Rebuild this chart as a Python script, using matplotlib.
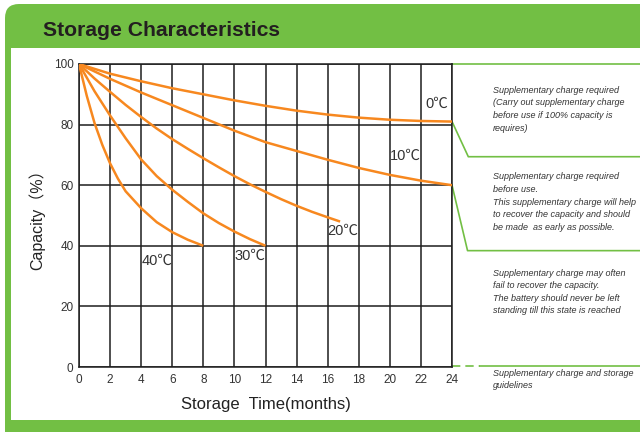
import matplotlib
matplotlib.use('Agg')
import matplotlib.pyplot as plt
from matplotlib import font_manager
from matplotlib.patches import FancyBboxPatch, Rectangle

# capacity (%), per storage temperature
months = [0, 2, 4, 6, 8, 10, 12, 14, 16, 18, 20, 22, 24]
cap_0c = [100, 96.8, 94.3, 92.0, 90.0, 88.0, 86.2, 84.6, 83.3, 82.3, 81.6, 81.2, 81.0]
cap_10c = [100, 95.1, 90.6, 86.4, 82.2, 78.0, 74.2, 71.3, 68.4, 65.7, 63.4, 61.5, 60.0]
months_20c = [0, 1, 2, 3, 4, 5, 6, 7, 8, 9, 10, 11, 12, 13, 14, 15, 16, 16.8]
cap_20c = [100, 95.2, 90.8, 86.5, 82.5, 78.7, 75.2, 72.0, 68.9, 65.9, 63.0, 60.3,
           57.8, 55.4, 53.2, 51.2, 49.4, 48.0]
months_30c = [0, 1, 2, 3, 4, 5, 6, 7, 8, 9, 10, 11, 12]
cap_30c = [100, 91.0, 83.0, 75.5, 68.5, 63.0, 58.5, 54.5, 50.7, 47.5, 44.7, 42.2, 40.0]
months_40c = [0, 0.5, 1, 1.5, 2, 2.5, 3, 4, 5, 6, 7, 8]
cap_40c = [100, 89.5, 80.5, 73.3, 67.2, 62.2, 58.0, 52.4, 47.8, 44.5, 42.0, 40.0]

curve_labels = ['0℃', '10℃', '20℃', '30℃', '40℃']
label_x = [23.0, 21.0, 17.0, 11.0, 5.0]
label_y = [86.8, 69.6, 44.9, 36.6, 35.0]

notes = [
    'Supplementary charge required\n(Carry out supplementary charge\nbefore use if 100% capacity is\nrequires)',
    'Supplementary charge required\nbefore use.\nThis supplementary charge will help\nto recover the capacity and should\nbe made  as early as possible.',
    'Supplementary charge may often\nfail to recover the capacity.\nThe battery should never be left\nstanding till this state is reached',
    'Supplementary charge and storage\nguidelines',
]
note_top = [92.8, 64.2, 32.5, -0.6]

GREEN = '#72bf44'
ORANGE = '#f7881f'
GRIDC = '#1e1e1e'
TXT = '#333333'


def pick_font(names):
    for n in names:
        try:
            font_manager.findfont(n, fallback_to_default=False)
            return n
        except ValueError:
            pass
    return 'DejaVu Sans'


narrow = pick_font(['Liberation Sans Narrow'])
if narrow == 'Liberation Sans Narrow':
    note_size, note_ls = 7.6, 1.22
else:
    narrow = 'Liberation Sans'
    note_size, note_ls = 6.5, 1.52

plt.rcParams['font.family'] = ['Liberation Sans', 'DejaVu Sans']

fig = plt.figure(figsize=(6.4, 4.32), dpi=100)

# frame: green header, left bar, bottom band
bg = fig.add_axes([0, 0, 1, 1], zorder=-1)
bg.set_xlim(0, 640)
bg.set_ylim(432, 0)
bg.axis('off')
bg.add_patch(FancyBboxPatch((5, 4), 700, 500, boxstyle='round,pad=0,rounding_size=14',
                            fc=GREEN, ec='none'))
bg.add_patch(Rectangle((11, 48), 640, 372, fc='white', ec='none'))
bg.text(43, 36, 'Storage Characteristics', fontsize=15.2, fontweight='bold',
        color='#231f20', va='baseline', ha='left')

ax = fig.add_axes([79 / 640, 65 / 432, 373 / 640, 303 / 432], zorder=1)
ax.set_xlim(0, 24)
ax.set_ylim(0, 100)
ax.set_xticks(range(0, 25, 2))
ax.set_yticks(range(0, 101, 20))
ax.grid(True, color=GRIDC, lw=1.1)
ax.set_axisbelow(True)
for s in ax.spines.values():
    s.set_color(GRIDC)
    s.set_linewidth(1.1)
ax.tick_params(length=0, labelsize=8.5, labelcolor=TXT)
ax.tick_params(axis='x', pad=5)
ax.tick_params(axis='y', pad=4)

series = [(months, cap_0c), (months, cap_10c), (months_20c, cap_20c),
          (months_30c, cap_30c), (months_40c, cap_40c)]
for (xs, ys) in series:
    ax.plot(xs, ys, color=ORANGE, lw=1.8, solid_capstyle='butt', zorder=3)

for lab, lx, ly in zip(curve_labels, label_x, label_y):
    ax.text(lx, ly, lab, fontsize=10.5, color=TXT, ha='center', va='center',
            family=['Liberation Sans', 'Noto Sans CJK SC'])

ax.set_xlabel('Storage  Time(months)', fontsize=12, color='#222222', labelpad=8)
ax.set_ylabel('Capacity（%）', fontsize=11.5, color='#222222', labelpad=6,
              family=['Liberation Sans', 'Noto Sans CJK SC'])

# guide lines on the right
xr = 37
ax.plot([24, xr], [100, 100], color=GREEN, lw=1.2, clip_on=False)
ax.plot([24, 25.05, xr], [cap_0c[-1], 69.4, 69.4], color=GREEN, lw=1.2, clip_on=False)
ax.plot([24, 25.0, xr], [cap_10c[-1], 38.4, 38.4], color=GREEN, lw=1.2, clip_on=False)
ax.plot([24, 25.8], [0.4, 0.4], color=GREEN, lw=1.2, ls=(0, (5, 3)), clip_on=False)
ax.plot([25.8, xr], [0.4, 0.4], color=GREEN, lw=1.2, clip_on=False)

for t, ty in zip(notes, note_top):
    ax.text(26.65, ty, t, fontsize=note_size, style='italic', color=TXT, family=narrow,
            ha='left', va='top', linespacing=note_ls, clip_on=False)

fig.savefig('out.png', dpi=100, facecolor='white')
